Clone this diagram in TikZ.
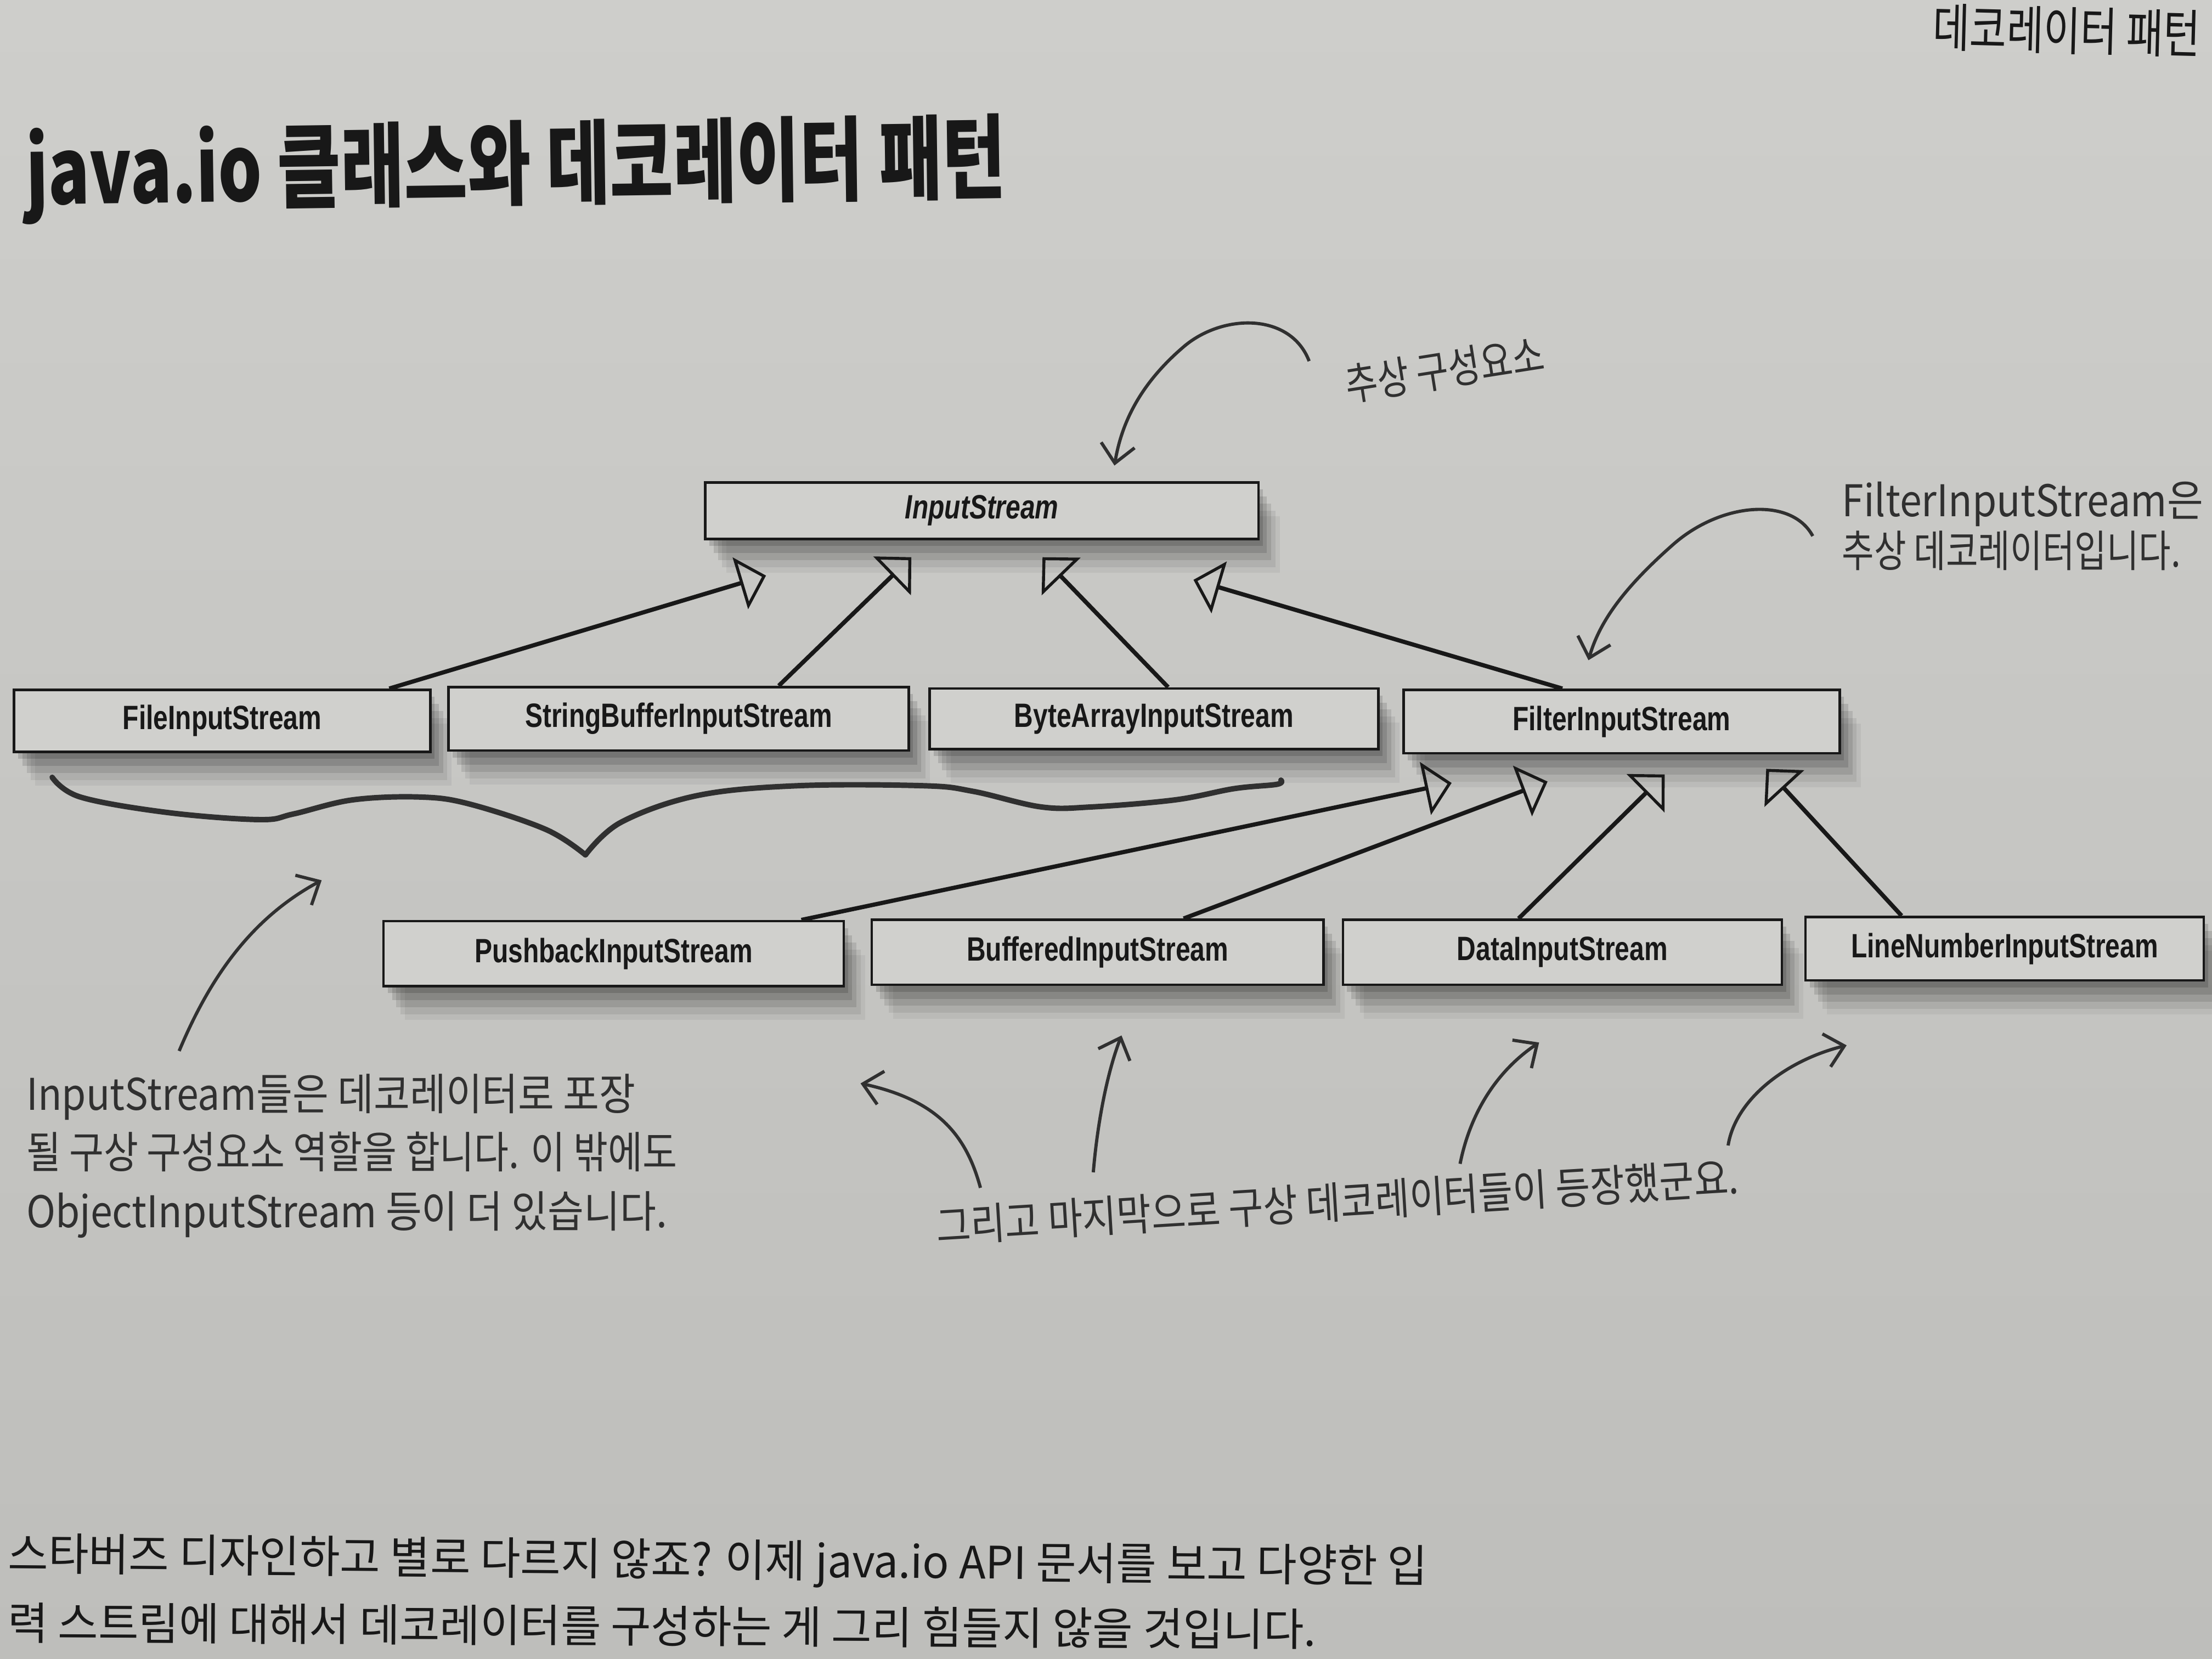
\documentclass[tikz,border=0pt]{standalone}
\usepackage{fontspec}
\usetikzlibrary{arrows.meta,shadows}
\newfontfamily\boxf[FakeStretch=0.78]{Liberation Sans}
\newfontfamily\hand[FakeStretch=0.9]{Noto Sans CJK KR}
\newfontfamily\handm[FakeStretch=0.86]{Noto Sans CJK KR}
\newfontfamily\handn[FakeStretch=0.8]{Noto Sans CJK KR}
\newfontfamily\krhead[FakeStretch=0.77]{Noto Sans CJK KR}
\newfontfamily\krtitle[FakeStretch=0.75]{Noto Sans CJK KR}
\newfontfamily\krbody[FakeStretch=0.98]{Noto Sans CJK KR}
\definecolor{papertop}{RGB}{206,206,203}
\definecolor{paperdark}{RGB}{190,190,187}
\definecolor{boxfill}{RGB}{208,208,205}
\definecolor{ink}{RGB}{24,24,24}
\definecolor{pencil}{RGB}{48,48,48}
\tikzset{
  boxshadow/.style={
    general shadow={fill=black, opacity=0.14, shadow xshift=0.3mm, shadow yshift=-0.5mm},
    general shadow={fill=black, opacity=0.12, shadow xshift=0.6mm, shadow yshift=-1.0mm},
    general shadow={fill=black, opacity=0.10, shadow xshift=0.9mm, shadow yshift=-1.5mm},
    general shadow={fill=black, opacity=0.07, shadow xshift=1.2mm, shadow yshift=-2.0mm},
    general shadow={fill=black, opacity=0.05, shadow xshift=1.5mm, shadow yshift=-2.4mm}},
  classbox/.style={draw=ink, line width=0.5pt, fill=boxfill, inner sep=0pt, text=ink,
    font=\boxf\fontsize{6.8}{8}\selectfont\bfseries, boxshadow},
  inh/.style={draw=ink, line width=0.85pt,
    -{Triangle[open, length=1.9mm, width=3.8mm, line width=0.6pt]}},
  handarrow/.style={draw=pencil, line width=0.65pt,
    -{Straight Barb[length=1.3mm, width=2.4mm, line width=0.65pt]}},
  note/.style={text=pencil, inner sep=0pt, font=\hand\fontsize{8.8}{10}\selectfont},
  body/.style={text=ink, inner sep=0pt, font=\krbody\fontsize{9}{11}\selectfont}
}
\begin{document}
\begin{tikzpicture}[x=0.01cm, y=-0.01cm]
\useasboundingbox (0,0) rectangle (1568,1176);
\shade[top color=papertop, bottom color=paperdark] (0,0) rectangle (1568,1176);

% header and title
\node[anchor=base east, text=ink, inner sep=0pt, rotate=-1.5,
  font=\krhead\fontsize{10.5}{12}\selectfont] (hdr) at (1560,38) {데코레이터 패턴};
\node[anchor=base west, text=ink, inner sep=0pt, rotate=0.8,
  font=\krtitle\fontsize{18.5}{21}\selectfont\bfseries] (title) at (18,145) {java.io 클래스와 데코레이터 패턴};

% class boxes
\node[classbox, minimum width=3.92cm, minimum height=0.40cm,
  font=\boxf\fontsize{6.8}{8}\selectfont\bfseries\itshape] (in) at (696,362) {InputStream};
\node[classbox, minimum width=2.95cm, minimum height=0.44cm] (file) at (157.5,511) {FileInputStream};
\node[classbox, minimum width=3.26cm, minimum height=0.45cm] (sbuf) at (481,509.5) {StringBufferInputStream};
\node[classbox, minimum width=3.18cm, minimum height=0.43cm] (barr) at (818,509.5) {ByteArrayInputStream};
\node[classbox, minimum width=3.09cm, minimum height=0.45cm] (filt) at (1149.5,511.5) {FilterInputStream};
\node[classbox, minimum width=3.26cm, minimum height=0.46cm] (push) at (435,676) {PushbackInputStream};
\node[classbox, minimum width=3.20cm, minimum height=0.46cm] (buf) at (778,675) {BufferedInputStream};
\node[classbox, minimum width=3.11cm, minimum height=0.46cm] (data) at (1107.5,675) {DataInputStream};
\node[classbox, minimum width=2.82cm, minimum height=0.45cm] (line) at (1421,672.5) {LineNumberInputStream};

% inheritance tips
\coordinate (t1) at (543,408);
\coordinate (t2) at (646,395);
\coordinate (t3) at (739,395);
\coordinate (t4) at (846,411);
\coordinate (t5) at (1029,555);
\coordinate (t6) at (1097,554);
\coordinate (t7) at (1180,549);
\coordinate (t8) at (1252,545);

\draw[inh] ([xshift=-0.30cm]file.north east) -- (t1);
\draw[inh] ([xshift=0.71cm]sbuf.north) -- (t2);
\draw[inh] ([xshift=0.10cm]barr.north) -- (t3);
\draw[inh] ([xshift=-0.42cm]filt.north) -- (t4);
\draw[inh] ([xshift=1.33cm]push.north) -- (t5);
\draw[inh] ([xshift=0.61cm]buf.north) -- (t6);
\draw[inh] ([xshift=-0.31cm]data.north) -- (t7);
\draw[inh] ([xshift=-0.73cm]line.north) -- (t8);

% handwritten notes
\node[note, rotate=9, font=\handn\fontsize{8.8}{10}\selectfont] (n1) at (1024,262) {추상 구성요소};
\node[note, anchor=base west] (n2a) at (1305,366) {FilterInputStream은};
\node[note, anchor=base west, font=\handn\fontsize{8.8}{10}\selectfont] (n2b) at (1305,402) {추상 데코레이터입니다.};
\node[note, anchor=base west] (n3a) at (18,787) {InputStream들은 데코레이터로 포장};
\node[note, anchor=base west, font=\handm\fontsize{8.8}{10}\selectfont] (n3b) at (18,828) {될 구상 구성요소 역할을 합니다. 이 밖에도};
\node[note, anchor=base west] (n3c) at (18,870) {ObjectInputStream 등이 더 있습니다.};
\node[note, rotate=3.5, font=\handm\fontsize{8.8}{10}\selectfont] (n4) at (948,852) {그리고 마지막으로 구상 데코레이터들이 등장했군요.};

% handwritten arrows
\coordinate (a1s) at (928,256);
\coordinate (a1e) at (790,330);
\draw[handarrow] (a1s) .. controls (915,222) and (868,222) .. (840,245)
  .. controls (808,272) and (795,300) .. (a1e);
\coordinate (a2s) at (1285,380);
\coordinate (a2e) at (1126,468);
\draw[handarrow] (a2s) .. controls (1270,352) and (1220,356) .. (1186,386)
  .. controls (1152,416) and (1134,440) .. (a2e);
\coordinate (a3s) at (127,745);
\coordinate (a3e) at (228,624);
\draw[handarrow] (a3s) .. controls (150,690) and (180,650) .. (a3e);
\coordinate (b1s) at (695,842);
\coordinate (b1e) at (610,768);
\draw[handarrow] (b1s) .. controls (685,805) and (665,780) .. (b1e);
\coordinate (b2s) at (775,831);
\coordinate (b2e) at (795,734);
\draw[handarrow] (b2s) .. controls (778,795) and (785,760) .. (b2e);
\coordinate (b3s) at (1035,825);
\coordinate (b3e) at (1091,739);
\draw[handarrow] (b3s) .. controls (1042,790) and (1060,760) .. (b3e);
\coordinate (b4s) at (1225,812);
\coordinate (b4e) at (1309,741);
\draw[handarrow] (b4s) .. controls (1230,780) and (1265,752) .. (b4e);

% brace
\coordinate (brtip) at (415,606);
\draw[pencil, line width=1.1pt, line cap=round, line join=round]
  plot[smooth, tension=0.6] coordinates {(37,551) (57,565) (119,576) (184,581) (208,577) (250,567) (298,565) (333,570) (387,588) (415,606)};
\draw[pencil, line width=1.1pt, line cap=round, line join=round]
  plot[smooth, tension=0.6] coordinates {(415,606) (440,583) (494,564) (565,557) (655,557) (690,561) (738,572) (774,572) (833,567) (875,559) (905,556) (908,553)};

% body text
\node[body, anchor=base west, rotate=-0.5] (p1) at (5,1113) {스타버즈 디자인하고 별로 다르지 않죠? 이제 java.io API 문서를 보고 다양한 입};
\node[body, anchor=base west, rotate=-0.3] (p2) at (5,1162) {력 스트림에 대해서 데코레이터를 구성하는 게 그리 힘들지 않을 것입니다.};
\end{tikzpicture}
\end{document}
